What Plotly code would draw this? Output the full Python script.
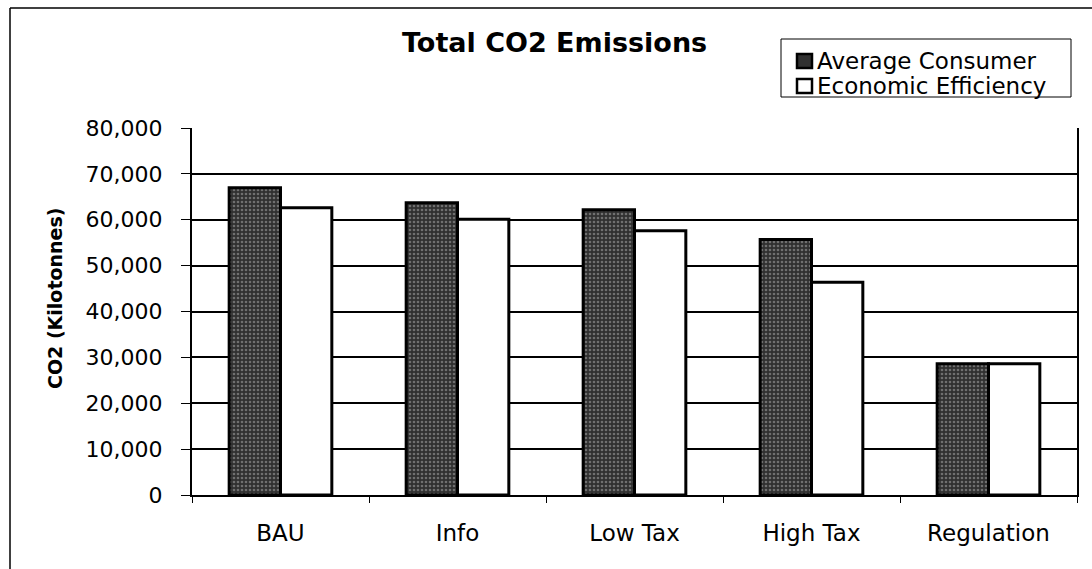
import plotly.graph_objects as go

categories = ["BAU", "Info", "Low Tax", "High Tax", "Regulation"]
average_consumer = [67000, 63700, 62200, 55700, 28600]
economic_efficiency = [62600, 60100, 57600, 46400, 28600]
series_names = ["Average Consumer", "Economic Efficiency"]
y_ticks = [0, 10000, 20000, 30000, 40000, 50000, 60000, 70000, 80000]
y_tick_labels = ["0", "10,000", "20,000", "30,000", "40,000", "50,000", "60,000", "70,000", "80,000"]

W, H = 1092, 569
L, R, T, B = 192, 1077, 128, 495
pw, ph = R - L, B - T


def px(x):
    return (x - L) / pw


def py(y):
    return (B - y) / ph


FONT = "DejaVu Sans"
DARK = "#303030"

fig = go.Figure()
fig.add_trace(go.Bar(
    x=categories, y=average_consumer, name=series_names[0],
    marker=dict(color=DARK, line=dict(color="black", width=3),
                pattern=dict(shape=".", fgcolor="#b0b0b0", bgcolor=DARK,
                             size=4, solidity=0.35)),
))
fig.add_trace(go.Bar(
    x=categories, y=economic_efficiency, name=series_names[1],
    marker=dict(color="white", line=dict(color="black", width=3)),
))

fig.update_layout(
    width=W, height=H,
    margin=dict(l=L, r=W - R, t=T, b=H - B, pad=0),
    paper_bgcolor="white", plot_bgcolor="white",
    barmode="group", bargap=0.42, bargroupgap=0,
    font=dict(family=FONT, color="black", size=22),
    showlegend=False,
)

fig.update_xaxes(
    type="category", showgrid=False, showline=True, linecolor="black", linewidth=2,
    mirror=False, ticks="outside", tickson="boundaries", ticklen=6, tickcolor="black",
    tickfont=dict(family=FONT, size=23, color="black"), ticklabelstandoff=16,
)
fig.update_yaxes(
    range=[0, 80000], tickmode="array", tickvals=y_ticks, ticktext=y_tick_labels,
    showgrid=True, gridcolor="black", gridwidth=1.5,
    showline=True, linecolor="black", linewidth=2, mirror=True,
    ticks="outside", ticklen=9, tickcolor="black",
    tickfont=dict(family=FONT, size=22, color="black"), ticklabelstandoff=14,
    zeroline=False,
)

fig.add_annotation(
    text="<b>Total CO2 Emissions</b>", xref="paper", yref="paper",
    x=px(554), y=py(42), xanchor="center", yanchor="middle", showarrow=False,
    font=dict(family=FONT, size=27, color="black"),
)
fig.add_annotation(
    text="<b>CO2 (Kilotonnes)</b>", xref="paper", yref="paper",
    x=px(55), y=py(299), xanchor="center", yanchor="middle", showarrow=False,
    textangle=-90, font=dict(family=FONT, size=19, color="black"),
)

# legend box (drawn by hand to match the compact row spacing)
fig.add_shape(type="rect", xref="paper", yref="paper",
              x0=px(781), x1=px(1071), y0=py(97), y1=py(39),
              line=dict(color="black", width=1), fillcolor="white", layer="above")
legend_rows = [(61, DARK), (86, "white")]
for (cy, fill), name in zip(legend_rows, series_names):
    fig.add_shape(type="rect", xref="paper", yref="paper",
                  x0=px(797), x1=px(812), y0=py(cy + 7), y1=py(cy - 7),
                  line=dict(color="black", width=2.5), fillcolor=fill, layer="above")
    fig.add_annotation(
        text=name, xref="paper", yref="paper", x=px(815), y=py(cy),
        xanchor="left", yanchor="middle", showarrow=False,
        font=dict(family=FONT, size=23, color="black"),
    )

# outer chart frame (top and left edges visible in the reference)
fig.add_shape(type="line", xref="paper", yref="paper",
              x0=px(10), x1=px(1095), y0=py(8), y1=py(8),
              line=dict(color="black", width=1.5))
fig.add_shape(type="line", xref="paper", yref="paper",
              x0=px(10), x1=px(10), y0=py(8), y1=py(575),
              line=dict(color="black", width=1.5))

fig.write_html("out.html")
